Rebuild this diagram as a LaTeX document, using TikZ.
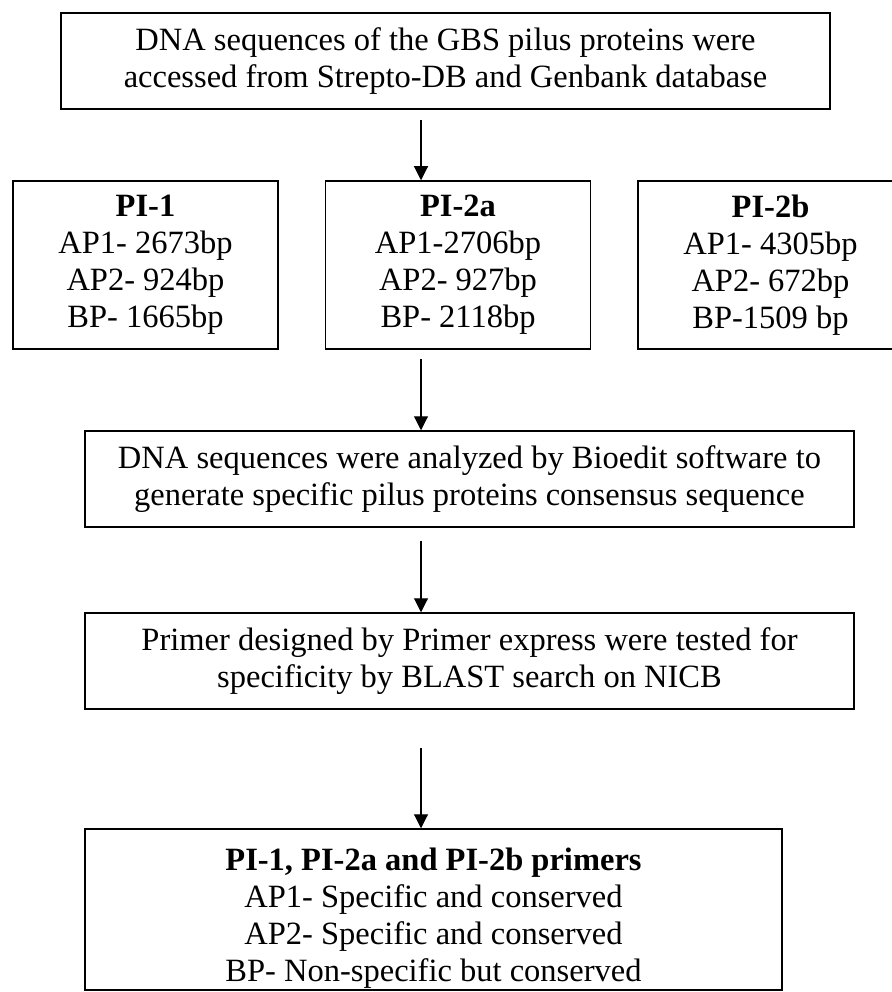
\documentclass[tikz,border=0pt]{standalone}
\usepackage{fontspec}
\setmainfont{Liberation Serif}
\usepackage{tikz}
\usetikzlibrary{arrows.meta,fit}

\begin{document}
\begin{tikzpicture}[x=1pt,y=-1pt]
          \tikzset{
            BoxStyle/.style = { rectangle, draw, line width=1.5pt,
              inner sep=0pt, align=center,
              font = \fontsize{32.5}{37}\selectfont },
            WideStyle/.style = { BoxStyle, minimum width=769pt,
              minimum height=96pt },
            PiStyle/.style = { BoxStyle, minimum width=265pt,
              minimum height=168pt },
            ArrowStyle/.style = { line width=1.1pt,
              -{Triangle[width=14pt,length=14pt]} } }

          \useasboundingbox (0,0) rectangle (891,992);
          \coordinate (axis) at (421,0);

          \node[WideStyle] (GBS) at (445.5,61) {DNA sequences of the GBS pilus proteins were\\accessed from Strepto-DB and Genbank database};
          \node[PiStyle] (PI1) at (145.5,265) {\textbf{PI-1}\\AP1- 2673bp\\AP2- 924bp\\BP- 1665bp};
          \node[PiStyle] (PI2a) at (458,265) {\textbf{PI-2a}\\AP1-2706bp\\AP2- 927bp\\BP- 2118bp};
          \node[PiStyle] (PI2b) at (770.5,265) {\textbf{PI-2b}\\AP1- 4305bp\\AP2- 672bp\\BP-1509 bp};
          \node[WideStyle] (BIOEDIT) at (469.5,479) {DNA sequences were analyzed by Bioedit software to\\generate specific pilus proteins consensus sequence};
          \node[WideStyle] (PRIMER) at (469.5,661) {Primer designed by Primer express were tested for\\specificity by BLAST search on NICB};
          % the last box is a bit taller than its text
          \node[BoxStyle, draw=none] (RESULT) at (433.5,918) {\textbf{PI-1, PI-2a and PI-2b primers}\\AP1- Specific and conserved\\AP2- Specific and conserved\\BP- Non-specific but conserved};
          \node[draw, line width=1.5pt, inner sep=0pt, fit={(85,829) (782,990)}] (RESULTBOX) {};

          \draw[ArrowStyle, shorten <=10pt] (GBS.south -| axis) -- (PI2a.north -| axis);
          \draw[ArrowStyle, shorten <=9pt] (PI2a.south -| axis) -- (BIOEDIT.north -| axis);
          \draw[ArrowStyle, shorten <=13pt] (BIOEDIT.south -| axis) -- (PRIMER.north -| axis);
          \draw[ArrowStyle, shorten <=38pt] (PRIMER.south -| axis) -- (RESULTBOX.north -| axis);
          % \draw[ArrowStyle] (PI1.south) -- (BIOEDIT.north);
\end{tikzpicture}
\end{document}
